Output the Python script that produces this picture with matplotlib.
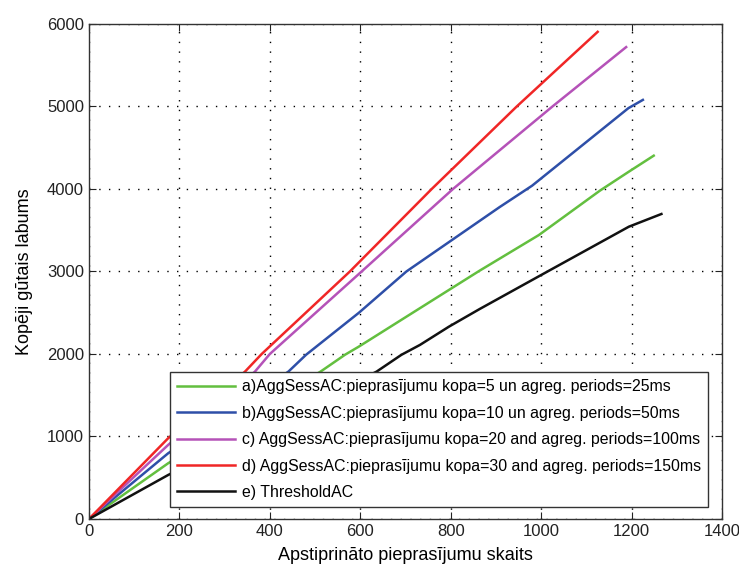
import matplotlib
matplotlib.use('Agg')
import matplotlib.pyplot as plt

plt.rcParams['font.family'] = ['Liberation Sans', 'DejaVu Sans']

# values (x = approved requests, y = total gain)
red_x = [0, 175, 345, 382, 577, 758, 946, 1125]
red_y = [0, 978, 1786, 2000, 3000, 4000, 5000, 5905]
mag_x = [0, 175, 367, 400, 603, 805, 1025, 1188]
mag_y = [0, 897, 1786, 2000, 3000, 4000, 5000, 5720]
blue_x = [0, 175, 441, 480, 597, 702, 908, 980, 1193, 1225]
blue_y = [0, 796, 1786, 1990, 2500, 3000, 3780, 4040, 4980, 5080]
green_x = [0, 175, 512, 566, 597, 796, 864, 995, 1130, 1194, 1249]
green_y = [0, 675, 1786, 1990, 2090, 2776, 3010, 3442, 3980, 4210, 4404]
black_x = [0, 175, 636, 691, 732, 796, 864, 996, 1194, 1266]
black_y = [0, 533, 1786, 1990, 2110, 2331, 2545, 2945, 3543, 3697]

labels = ['a)AggSessAC:pieprasījumu kopa=5 un agreg. periods=25ms',
          'b)AggSessAC:pieprasījumu kopa=10 un agreg. periods=50ms',
          'c) AggSessAC:pieprasījumu kopa=20 and agreg. periods=100ms',
          'd) AggSessAC:pieprasījumu kopa=30 and agreg. periods=150ms',
          'e) ThresholdAC']

fig = plt.figure(figsize=(7.39, 5.70), dpi=100)
ax = fig.add_axes([0.1204, 0.0895, 0.8566, 0.8684])

ax.plot(green_x, green_y, color='#63bf3f', lw=1.8, label=labels[0])
ax.plot(blue_x, blue_y, color='#2e4fa8', lw=1.8, label=labels[1])
ax.plot(mag_x, mag_y, color='#b552b8', lw=1.8, label=labels[2])
ax.plot(red_x, red_y, color='#f02626', lw=1.8, label=labels[3])
ax.plot(black_x, black_y, color='#111111', lw=1.8, label=labels[4])

ax.set_xlim(0, 1400)
ax.set_ylim(0, 6000)
ax.set_xticks(range(0, 1401, 200))
ax.set_yticks(range(0, 6001, 1000))
ax.tick_params(direction='in', top=True, right=True, labelsize=12, length=5, colors='#222222')
ax.grid(True, linestyle=(0, (1, 6)), color='black', lw=1.0)
for s in ax.spines.values():
    s.set_linewidth(1.0)
    s.set_color('#333333')

ax.set_xlabel('Apstiprināto pieprasījumu skaits', fontsize=13, labelpad=6)
ax.set_ylabel('Kopēji gūtais labums', fontsize=13, labelpad=10)

leg = ax.legend(loc='lower right', bbox_to_anchor=(0.978, 0.024), borderaxespad=0,
                fontsize=11.4, fancybox=False, edgecolor='#333333', framealpha=1,
                handlelength=3.7, handletextpad=0.4, labelspacing=0.72, borderpad=0.45)
leg.get_frame().set_linewidth(1.0)

fig.savefig('out.png', dpi=100)
